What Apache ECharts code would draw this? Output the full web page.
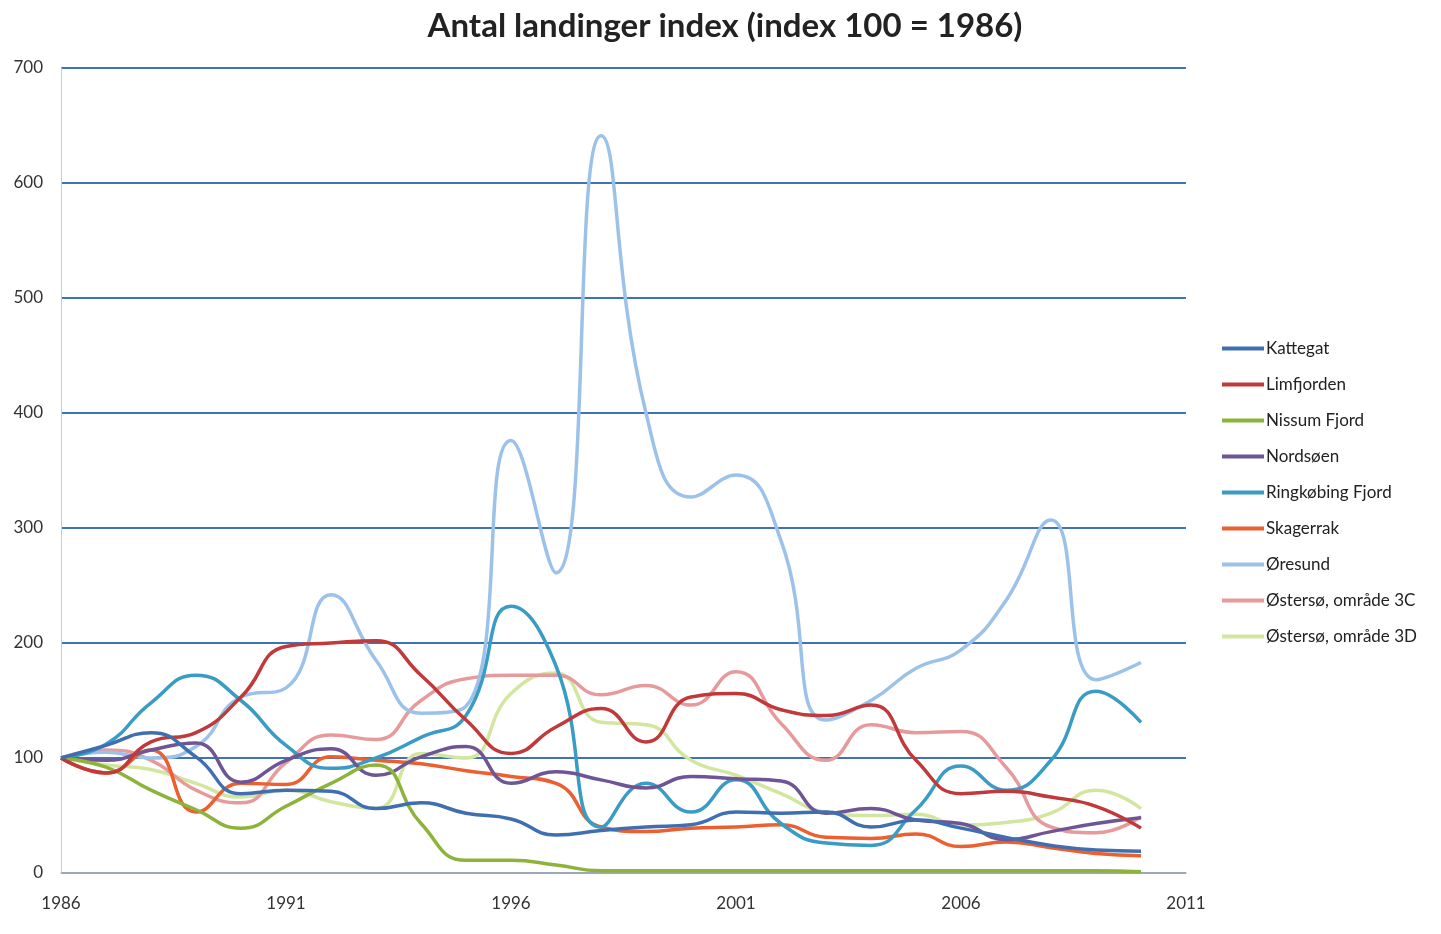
<!DOCTYPE html>
<html>
<head>
<meta charset="utf-8">
<title>Antal landinger index</title>
<script src="https://cdn.jsdelivr.net/npm/echarts@6/dist/echarts.min.js"></script>
<style>
  html, body { margin: 0; padding: 0; background: #fff; }
  #chart { width: 1441px; height: 934px; }
</style>
</head>
<body>
<div id="chart"></div>
<script>
// years 1986 - 2010
const years = [1986, 1987, 1988, 1989, 1990, 1991, 1992, 1993, 1994, 1995, 1996, 1997, 1998,
  1999, 2000, 2001, 2002, 2003, 2004, 2005, 2006, 2007, 2008, 2009, 2010]

const seriesNames = ['Kattegat', 'Limfjorden', 'Nissum Fjord', 'Nordsøen', 'Ringkøbing Fjord',
  'Skagerrak', 'Øresund', 'Østersø, område 3C', 'Østersø, område 3D']

const kattegat = [100, 111, 122, 101, 69, 72, 71, 56, 61, 52, 47, 33, 37, 40, 42, 53, 52, 53, 40, 46, 39, 31, 24, 20, 19]
const limfjorden = [100, 87, 114, 122, 153, 197, 200, 202, 172, 133, 104, 127, 143, 114, 153, 156, 142, 137, 146, 98, 69, 71, 66, 58, 39]
const nissumFjord = [100, 92, 72, 55, 39, 58, 78, 94, 43, 11, 11, 7, 2, 2, 2, 2, 2, 2, 2, 2, 2, 2, 2, 2, 1]
const nordsoen = [100, 98, 107, 113, 79, 98, 108, 85, 101, 110, 78, 88, 81, 74, 84, 82, 80, 52, 56, 46, 43, 29, 36, 43, 48]
const ringkobingFjord = [100, 112, 148, 172, 150, 111, 91, 100, 118, 137, 232, 180, 40, 78, 53, 81, 43, 26, 24, 55, 93, 72, 98, 158, 131]
const skagerrak = [100, 87, 107, 53, 78, 77, 101, 98, 95, 89, 84, 78, 40, 36, 39, 40, 42, 31, 30, 34, 23, 27, 22, 17, 15]
const oresund = [100, 105, 100, 110, 153, 161, 242, 185, 139, 145, 376, 261, 641, 400, 327, 346, 289, 133, 150, 178, 194, 237, 307, 168, 183]
const ostersoe3C = [100, 107, 98, 72, 61, 96, 120, 116, 150, 169, 172, 172, 155, 163, 146, 175, 130, 98, 129, 122, 123, 92, 40, 35, 49]
const ostersoe3D = [100, 94, 90, 78, 66, 72, 62, 56, 104, 100, 156, 174, 131, 129, 98, 85, 69, 53, 50, 51, 42, 44, 52, 72, 56]

const yTicks = [0, 100, 200, 300, 400, 500, 600, 700]
const xTicks = [1986, 1991, 1996, 2001, 2006, 2011]

const allData = [kattegat, limfjorden, nissumFjord, nordsoen, ringkobingFjord, skagerrak, oresund, ostersoe3C, ostersoe3D]
const colors = ['#3F6FB0', '#C0393B', '#8DB33A', '#6E5696', '#3A9CC4', '#EC5F2E', '#9CC2EA', '#E69A9C', '#D3E6A0']

const chart = echarts.init(document.getElementById('chart'))

chart.setOption({
  color: colors,
  animation: false,
  textStyle: { fontFamily: 'Lato, "Open Sans", sans-serif' },
  title: {
    text: 'Antal landinger index (index 100 = 1986)',
    left: 720,
    top: 5,
    textAlign: 'center',
    textStyle: { fontSize: 33, fontWeight: 'bold', color: '#222' }
  },
  legend: {
    orient: 'vertical',
    left: 1222,
    top: 340,
    padding: 0,
    icon: 'rect',
    itemWidth: 42,
    itemHeight: 4,
    itemGap: 19,
    data: seriesNames,
    textStyle: { fontSize: 17, color: '#222', padding: [0, 0, 0, -3] }
  },
  grid: {
    left: 61,
    right: 255,
    top: 68,
    bottom: 61
  },
  xAxis: {
    type: 'value',
    min: xTicks[0],
    max: xTicks[xTicks.length - 1],
    interval: 5,
    axisLine: { show: true, lineStyle: { color: '#bbb', width: 1.5 } },
    axisTick: { show: false },
    splitLine: { show: false },
    axisLabel: { fontSize: 17, color: '#333', margin: 22, formatter: v => String(v) }
  },
  yAxis: {
    type: 'value',
    min: yTicks[0],
    max: yTicks[yTicks.length - 1],
    interval: 100,
    axisLine: { show: true, lineStyle: { color: '#ccc', width: 1 } },
    axisTick: { show: false },
    splitLine: { show: true, lineStyle: { color: '#3E73B8', width: 2 } },
    axisLabel: { fontSize: 17, color: '#333', margin: 18 }
  },
  series: seriesNames.map((name, i) => ({
    name: name,
    type: 'line',
    smooth: 0.5,
    showSymbol: false,
    lineStyle: { width: 3.5 },
    z: 10 - i,
    data: years.map((y, j) => [y, allData[i][j]])
  }))
})
</script>
</body>
</html>
